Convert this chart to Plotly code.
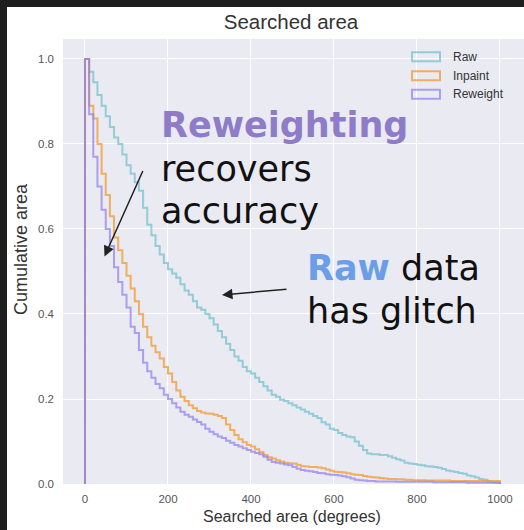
import plotly.graph_objects as go

# ---------------- data (bin edges every 10 deg, survival fraction per bin) ----------------
bin_edges = list(range(0, 1001, 10))

raw = [1.0, 0.97, 0.945, 0.915, 0.89, 0.865, 0.84, 0.815, 0.80, 0.775,
       0.75, 0.73, 0.71, 0.69, 0.65, 0.61, 0.585, 0.56, 0.54, 0.52,
       0.505, 0.495, 0.485, 0.47, 0.455, 0.445, 0.43, 0.415, 0.41, 0.40,
       0.39, 0.375, 0.36, 0.345, 0.33, 0.315, 0.30, 0.29, 0.275, 0.265,
       0.26, 0.25, 0.24, 0.23, 0.22, 0.21, 0.205, 0.198, 0.195, 0.19,
       0.185, 0.18, 0.175, 0.17, 0.165, 0.16, 0.155, 0.145, 0.14, 0.13,
       0.127, 0.12, 0.115, 0.112, 0.11, 0.10, 0.09, 0.08, 0.072, 0.07,
       0.07, 0.068, 0.068, 0.065, 0.062, 0.058, 0.055, 0.05, 0.048, 0.047,
       0.045, 0.044, 0.042, 0.041, 0.04, 0.038, 0.035, 0.032, 0.03, 0.028,
       0.026, 0.024, 0.02, 0.018, 0.015, 0.012, 0.01, 0.006, 0.004, 0.003]

inpaint = [1.0, 0.89, 0.86, 0.80, 0.73, 0.68, 0.63, 0.58, 0.55, 0.52,
           0.49, 0.46, 0.43, 0.40, 0.37, 0.345, 0.325, 0.31, 0.295, 0.275,
           0.26, 0.24, 0.22, 0.205, 0.195, 0.185, 0.178, 0.172, 0.168, 0.166,
           0.165, 0.163, 0.16, 0.155, 0.14, 0.127, 0.115, 0.105, 0.098, 0.092,
           0.088, 0.082, 0.075, 0.068, 0.063, 0.06, 0.056, 0.053, 0.05, 0.049,
           0.048, 0.045, 0.042, 0.041, 0.04, 0.04, 0.039, 0.037, 0.034, 0.031,
           0.029, 0.028, 0.027, 0.025, 0.023, 0.022, 0.021, 0.019, 0.017, 0.016,
           0.015, 0.014, 0.013, 0.012, 0.012, 0.011, 0.011, 0.01, 0.01, 0.009,
           0.009, 0.009, 0.008, 0.008, 0.008, 0.008, 0.008, 0.008, 0.007, 0.007,
           0.007, 0.007, 0.007, 0.007, 0.007, 0.007, 0.007, 0.007, 0.007, 0.007]

reweight = [1.0, 0.87, 0.77, 0.70, 0.645, 0.60, 0.56, 0.51, 0.475, 0.445,
            0.415, 0.37, 0.355, 0.315, 0.285, 0.265, 0.25, 0.235, 0.225, 0.21,
            0.20, 0.19, 0.18, 0.17, 0.163, 0.158, 0.152, 0.146, 0.14, 0.13,
            0.123, 0.117, 0.112, 0.108, 0.102, 0.097, 0.092, 0.088, 0.084, 0.08,
            0.076, 0.073, 0.07, 0.064, 0.057, 0.052, 0.05, 0.048, 0.046, 0.044,
            0.04, 0.036, 0.033, 0.031, 0.03, 0.028, 0.026, 0.025, 0.023, 0.022,
            0.021, 0.02, 0.018, 0.016, 0.013, 0.01, 0.009, 0.008, 0.007, 0.007,
            0.006, 0.006, 0.006, 0.006, 0.006, 0.005, 0.005, 0.005, 0.005, 0.005,
            0.005, 0.005, 0.005, 0.005, 0.004, 0.004, 0.004, 0.004, 0.004, 0.004,
            0.004, 0.004, 0.003, 0.003, 0.003, 0.003, 0.003, 0.003, 0.003, 0.003]

series_names = ["Raw", "Inpaint", "Reweight"]
series_values = [raw, inpaint, reweight]
series_colors = ["rgb(114,192,204)", "rgb(245,150,40)", "rgb(146,130,236)"]

x_ticks = [0, 200, 400, 600, 800, 1000]
y_ticks = [0.0, 0.2, 0.4, 0.6, 0.8, 1.0]

# ---------------- layout geometry ----------------
W, H = 524, 530
ML, MR, MT, MB = 63, 0, 39, 46
XR = [-53, 1058]
YR = [0, 1.047]
PW, PH = W - ML - MR, H - MT - MB


def px2x(px):
    return XR[0] + (px - ML) / PW * (XR[1] - XR[0])


def py2y(py):
    return YR[0] + (H - MB - py) / PH * (YR[1] - YR[0])


def ppx(px):  # pixel -> paper x
    return (px - ML) / PW


def ppy(py):  # pixel -> paper y
    return (H - MB - py) / PH


fig = go.Figure()
for name, vals, col in zip(series_names, series_values, series_colors):
    xs = [bin_edges[0]] + bin_edges[:-1] + [bin_edges[-1], bin_edges[-1]]
    ys = [0] + vals + [vals[-1], 0]
    fig.add_trace(go.Scatter(x=xs, y=ys, mode="lines", name=name,
                             line=dict(color=col, width=2, shape="hv"),
                             opacity=0.72, showlegend=False, hoverinfo="skip"))

shapes = []
annotations = []

# dark frame bands (top and left)
frame = "#1e1e1e"
shapes.append(dict(type="rect", xref="paper", yref="paper", x0=ppx(0), x1=ppx(W + 2),
                   y0=ppy(7), y1=ppy(-2), fillcolor=frame, line=dict(width=0), layer="above"))
shapes.append(dict(type="rect", xref="paper", yref="paper", x0=ppx(-2), x1=ppx(7),
                   y0=ppy(H + 2), y1=ppy(-2), fillcolor=frame, line=dict(width=0), layer="above"))

# manual legend (outlined patches, like matplotlib step histogram legend)
leg_rows = [56.7, 75.7, 94.3]
for name, col, yc in zip(series_names, series_colors, leg_rows):
    shapes.append(dict(type="rect", xref="paper", yref="paper",
                       x0=ppx(412), x1=ppx(440), y0=ppy(yc + 4.5), y1=ppy(yc - 4.5),
                       line=dict(color=col, width=2), fillcolor="rgba(0,0,0,0)",
                       opacity=0.72, layer="above"))
    annotations.append(dict(xref="paper", yref="paper", x=ppx(451), y=ppy(yc),
                            text=name, showarrow=False, xanchor="left", yanchor="middle",
                            font=dict(family="Liberation Sans, Arial", size=12, color="#333333")))

# commentary text
big = dict(family="DejaVu Sans, sans-serif", size=35, color="#111111")
annotations.append(dict(xref="paper", yref="paper", x=ppx(159), y=ppy(125),
                        text="<b><span style='color:#8E7CC8'>Reweighting</span></b>",
                        showarrow=False, xanchor="left", yanchor="middle", font=big))
annotations.append(dict(xref="paper", yref="paper", x=ppx(159), y=ppy(169),
                        text="recovers", showarrow=False, xanchor="left", yanchor="middle", font=big))
annotations.append(dict(xref="paper", yref="paper", x=ppx(159), y=ppy(211),
                        text="accuracy", showarrow=False, xanchor="left", yanchor="middle", font=big))
annotations.append(dict(xref="paper", yref="paper", x=ppx(305), y=ppy(268),
                        text="<b><span style='color:#6A9FE8'>Raw</span></b> data",
                        showarrow=False, xanchor="left", yanchor="middle", font=big))
annotations.append(dict(xref="paper", yref="paper", x=ppx(305), y=ppy(311),
                        text="has glitch", showarrow=False, xanchor="left", yanchor="middle", font=big))

# arrows (tip at x/y, tail offset in px)
annotations.append(dict(x=px2x(104.5), y=py2y(256.5), xref="x", yref="y", text="",
                        showarrow=True, arrowhead=2, arrowsize=1.4, arrowwidth=1.5,
                        arrowcolor="#222222", ax=39, ay=-87))
annotations.append(dict(x=px2x(222), y=py2y(295), xref="x", yref="y", text="",
                        showarrow=True, arrowhead=2, arrowsize=1.4, arrowwidth=1.5,
                        arrowcolor="#222222", ax=66, ay=-6))

# axis titles
annotations.append(dict(xref="paper", yref="paper", x=ppx(292), y=ppy(516),
                        text="Searched area (degrees)", showarrow=False,
                        xanchor="center", yanchor="middle",
                        font=dict(family="Liberation Sans, Arial", size=16, color="#333333")))
annotations.append(dict(xref="paper", yref="paper", x=ppx(21), y=ppy(249),
                        text="Cumulative area", showarrow=False, textangle=-90,
                        xanchor="center", yanchor="middle",
                        font=dict(family="Liberation Sans, Arial", size=18, color="#333333")))

fig.update_layout(
    width=W, height=H,
    margin=dict(l=ML, r=MR, t=MT, b=MB, pad=0),
    paper_bgcolor="white", plot_bgcolor="#EAEAF2",
    title=dict(text="Searched area", x=ppx(291), xref="paper", xanchor="center",
               y=1 - 22 / H, yref="container", yanchor="middle",
               font=dict(family="Liberation Sans, Arial", size=20.5, color="#333333")),
    xaxis=dict(range=XR, tickvals=x_ticks, ticktext=[str(v) for v in x_ticks],
               showgrid=True, gridcolor="white", gridwidth=1, zeroline=False,
               showline=False, ticks="", ticklabelstandoff=6,
               tickfont=dict(family="Liberation Sans, Arial", size=11.5, color="#555555")),
    yaxis=dict(range=YR, tickvals=y_ticks, ticktext=[f"{v:.1f}" for v in y_ticks],
               showgrid=True, gridcolor="white", gridwidth=1, zeroline=False,
               showline=False, ticks="", ticklabelstandoff=8,
               tickfont=dict(family="Liberation Sans, Arial", size=11.5, color="#555555")),
    shapes=shapes, annotations=annotations,
)

fig.write_html("out.html")
